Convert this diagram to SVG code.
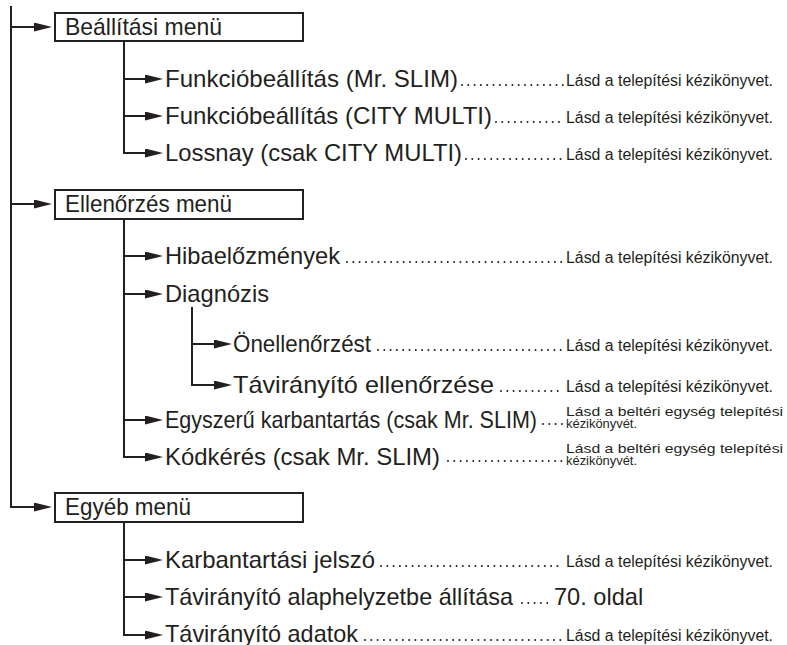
<svg xmlns="http://www.w3.org/2000/svg" width="787" height="645" viewBox="0 0 787 645">
<style>
.m{font-family:"Liberation Sans",Arial,sans-serif;font-size:23.6px;fill:#231f20}
.s{font-family:"Liberation Sans",Arial,sans-serif;font-size:15.6px;fill:#231f20}
.s2{font-family:"Liberation Sans",Arial,sans-serif;font-size:13.5px;fill:#231f20}
.ln{fill:none;stroke:#231f20;stroke-width:2}
.ar{marker-end:url(#ah)}
.dots{fill:none;stroke:#231f20;stroke-width:2;stroke-linecap:round;stroke-dasharray:0 6.3}
.box{fill:#fff;stroke:#231f20;stroke-width:2}
</style>
<defs>
<marker id="ah" viewBox="0 0 18 9" refX="6" refY="4.5" markerWidth="18" markerHeight="9" markerUnits="userSpaceOnUse" orient="auto">
<path d="M0,0 L18,4.5 L0,9 Z" fill="#231f20"/>
</marker>
</defs>
<g id="connectors">
<path class="ln ar" d="M11,6 V507 H40"/>
<path class="ln ar" d="M11,27 H40"/>
<path class="ln ar" d="M11,204 H40"/>
<path class="ln ar" d="M124,41 V153 H151"/>
<path class="ln ar" d="M124,79 H151"/>
<path class="ln ar" d="M124,116 H151"/>
<path class="ln ar" d="M124,219 V457 H151"/>
<path class="ln ar" d="M124,256 H151"/>
<path class="ln ar" d="M124,294 H151"/>
<path class="ln ar" d="M124,420 H151"/>
<path class="ln ar" d="M192,307 V385 H220"/>
<path class="ln ar" d="M192,344 H220"/>
<path class="ln ar" d="M124,522 V635 H151"/>
<path class="ln ar" d="M124,560 H151"/>
<path class="ln ar" d="M124,597 H151"/>
</g>
<g id="menu-beallitasi">
<rect class="box" x="55" y="13" width="248" height="28"/>
<text class="m" x="65" y="35" textLength="157" lengthAdjust="spacingAndGlyphs">Beállítási menü</text>
</g>
<g id="funkcio-mrslim">
<text class="m" x="165" y="87" textLength="293" lengthAdjust="spacingAndGlyphs">Funkcióbeállítás (Mr. SLIM)</text>
<line class="dots" x1="462" y1="85" x2="563" y2="85"/>
<text class="s" x="566" y="86" textLength="207" lengthAdjust="spacingAndGlyphs">Lásd a telepítési kézikönyvet.</text>
</g>
<g id="funkcio-city">
<text class="m" x="165" y="124" textLength="327" lengthAdjust="spacingAndGlyphs">Funkcióbeállítás (CITY MULTI)</text>
<line class="dots" x1="496" y1="122" x2="563" y2="122"/>
<text class="s" x="566" y="123" textLength="207" lengthAdjust="spacingAndGlyphs">Lásd a telepítési kézikönyvet.</text>
</g>
<g id="lossnay">
<text class="m" x="165" y="161" textLength="297" lengthAdjust="spacingAndGlyphs">Lossnay (csak CITY MULTI)</text>
<line class="dots" x1="466" y1="159" x2="563" y2="159"/>
<text class="s" x="566" y="160" textLength="207" lengthAdjust="spacingAndGlyphs">Lásd a telepítési kézikönyvet.</text>
</g>
<g id="menu-ellenorzes">
<rect class="box" x="55" y="190" width="248" height="29"/>
<text class="m" x="65" y="212" textLength="167" lengthAdjust="spacingAndGlyphs">Ellenőrzés menü</text>
</g>
<g id="hibaelozmenyek">
<text class="m" x="165" y="264" textLength="175" lengthAdjust="spacingAndGlyphs">Hibaelőzmények</text>
<line class="dots" x1="347" y1="262" x2="563" y2="262"/>
<text class="s" x="566" y="263" textLength="207" lengthAdjust="spacingAndGlyphs">Lásd a telepítési kézikönyvet.</text>
</g>
<g id="diagnozis">
<text class="m" x="165" y="302" textLength="104" lengthAdjust="spacingAndGlyphs">Diagnózis</text>
</g>
<g id="onellenorzest">
<text class="m" x="233" y="352" textLength="138" lengthAdjust="spacingAndGlyphs">Önellenőrzést</text>
<line class="dots" x1="378" y1="350" x2="563" y2="350"/>
<text class="s" x="566" y="351" textLength="207" lengthAdjust="spacingAndGlyphs">Lásd a telepítési kézikönyvet.</text>
</g>
<g id="taviranyito-ellenorzese">
<text class="m" x="233" y="393" textLength="261" lengthAdjust="spacingAndGlyphs">Távirányító ellenőrzése</text>
<line class="dots" x1="501" y1="391" x2="563" y2="391"/>
<text class="s" x="566" y="392" textLength="207" lengthAdjust="spacingAndGlyphs">Lásd a telepítési kézikönyvet.</text>
</g>
<g id="egyszeru-karbantartas">
<text class="m" x="165" y="428" textLength="372" lengthAdjust="spacingAndGlyphs">Egyszerű karbantartás (csak Mr. SLIM)</text>
<line class="dots" x1="543" y1="424" x2="563" y2="424"/>
<text class="s2" x="566" y="416" textLength="217" lengthAdjust="spacingAndGlyphs">Lásd a beltéri egység telepítési</text>
<text class="s2" x="566" y="428" textLength="71" lengthAdjust="spacingAndGlyphs">kézikönyvét.</text>
</g>
<g id="kodkeres">
<text class="m" x="165" y="465" textLength="275" lengthAdjust="spacingAndGlyphs">Kódkérés (csak Mr. SLIM)</text>
<line class="dots" x1="448" y1="461" x2="563" y2="461"/>
<text class="s2" x="566" y="453" textLength="217" lengthAdjust="spacingAndGlyphs">Lásd a beltéri egység telepítési</text>
<text class="s2" x="566" y="465" textLength="71" lengthAdjust="spacingAndGlyphs">kézikönyvét.</text>
</g>
<g id="menu-egyeb">
<rect class="box" x="55" y="493" width="248" height="29"/>
<text class="m" x="65" y="515" textLength="126" lengthAdjust="spacingAndGlyphs">Egyéb menü</text>
</g>
<g id="karbantartasi-jelszo">
<text class="m" x="165" y="568" textLength="210" lengthAdjust="spacingAndGlyphs">Karbantartási jelszó</text>
<line class="dots" x1="381" y1="566" x2="563" y2="566"/>
<text class="s" x="566" y="567" textLength="207" lengthAdjust="spacingAndGlyphs">Lásd a telepítési kézikönyvet.</text>
</g>
<g id="taviranyito-alaphelyzet">
<text class="m" x="165" y="605" textLength="348" lengthAdjust="spacingAndGlyphs">Távirányító alaphelyzetbe állítása</text>
<line class="dots" x1="522" y1="603" x2="551" y2="603"/>
<text class="m" x="554" y="605">70. oldal</text>
</g>
<g id="taviranyito-adatok">
<text class="m" x="165" y="642" textLength="193" lengthAdjust="spacingAndGlyphs">Távirányító adatok</text>
<line class="dots" x1="365" y1="640" x2="563" y2="640"/>
<text class="s" x="566" y="641" textLength="207" lengthAdjust="spacingAndGlyphs">Lásd a telepítési kézikönyvet.</text>
</g>
</svg>
